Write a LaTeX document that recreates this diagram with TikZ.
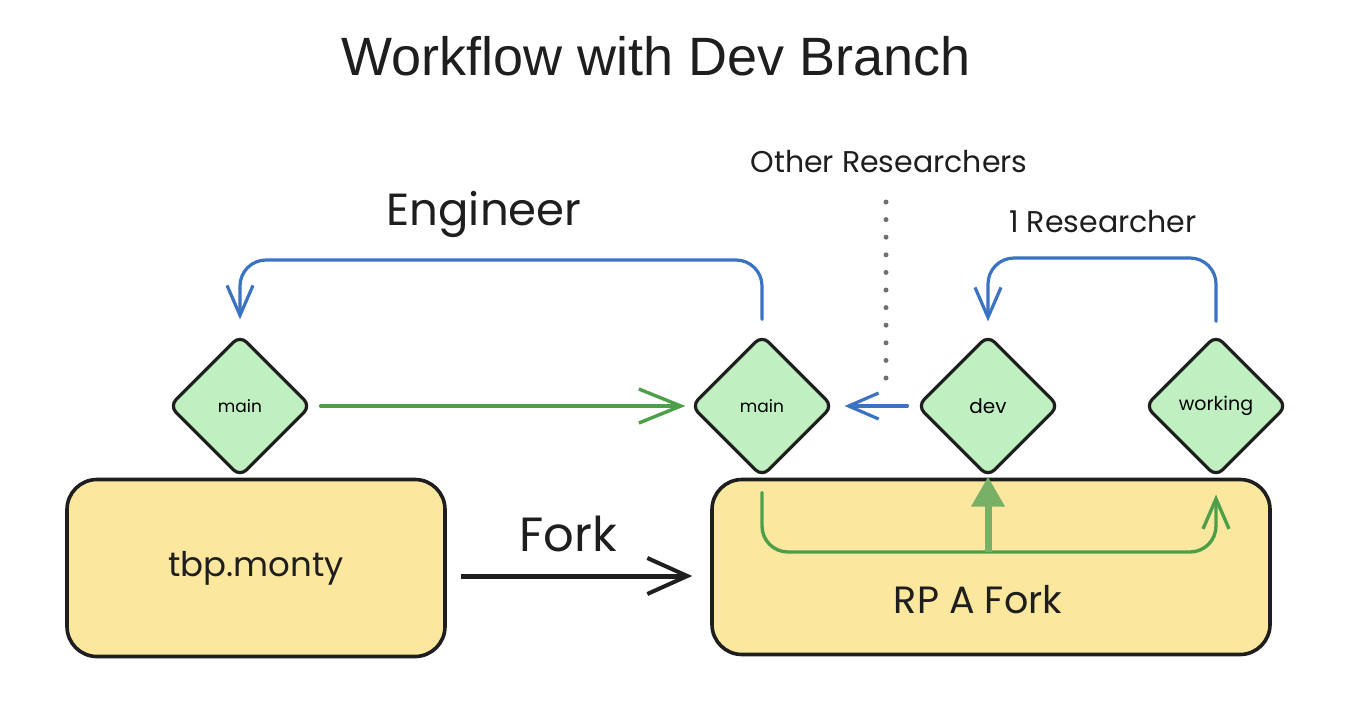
\documentclass[tikz,border=0pt]{standalone}
\usepackage{fontspec}
\setmainfont{Liberation Sans}
\newfontfamily\handfont{Poppins}
\usetikzlibrary{shapes.geometric,arrows.meta,calc}
\definecolor{inkc}{HTML}{1E1E1E}
\definecolor{leafc}{HTML}{C0F0C2}
\definecolor{sandc}{HTML}{FBE89E}
\definecolor{greenc}{HTML}{4E9F4A}
\definecolor{bluec}{HTML}{3B73C3}
\definecolor{grayc}{HTML}{707070}
\definecolor{lightgreenc}{HTML}{78B066}
\tikzset{
  branch/.style={diamond, draw=inkc, fill=leafc, line width=3.2pt, rounded corners=9pt,
    minimum width=142pt, minimum height=142pt, inner sep=0pt, font=\handfont\fontsize{17}{20}\selectfont},
  repo/.style={rectangle, draw=inkc, fill=sandc, line width=3.6pt, rounded corners=30pt},
  handtext/.style={font=\handfont, text=inkc, inner sep=0pt},
  bluearrow/.style={draw=bluec, line width=3.2pt, rounded corners=26pt, line cap=round,
    -{Straight Barb[length=30pt,width=26pt,line width=3.2pt]}},
  greenarrow/.style={draw=greenc, line width=3.4pt, line cap=round,
    -{Straight Barb[length=42pt,width=34pt,line width=3.4pt]}},
}
\begin{document}
\begin{tikzpicture}[x=1pt,y=-1pt]
\fill[white] (0,0) rectangle (1372,716);
\useasboundingbox (0,0) rectangle (1372,716);

% title
\node[font=\fontsize{54}{62}\selectfont, text=inkc] (title) at (656,56) {Workflow with Dev Branch};

% repositories
\node[repo, minimum width=378pt, minimum height=177pt] (monty) at (256,568) {};
\node[handtext, font=\handfont\fontsize{34}{40}\selectfont] (montytxt) at (256,568) {tbp.monty};
\node[repo, minimum width=558pt, minimum height=175pt] (rp) at (991,567) {};
\node[handtext, font=\handfont\fontsize{38}{44}\selectfont] (rptxt) at (978,600) {RP A Fork};

% branches
\node[branch] (mL) at (240,406) {main};
\node[branch] (mM) at (762,406) {main};
\node[branch, font=\handfont\fontsize{20}{24}\selectfont] (dev) at (988,406) {dev};
\node[branch, font=\handfont\fontsize{19}{24}\selectfont] (work) at (1216,406) {working};

% labels
\node[handtext, font=\handfont\fontsize{45}{52}\selectfont] (eng) at (484,214) {Engineer};
\node[handtext, font=\handfont\fontsize{30}{36}\selectfont] (other) at (889,162) {Other Researchers};
\node[handtext, font=\handfont\fontsize{30}{36}\selectfont] (oneres) at (1103,222) {1 Researcher};
\node[handtext, font=\handfont\fontsize{48}{56}\selectfont] (forklbl) at (568,534) {Fork};

% engineer loop
\draw[bluearrow] ($(mM.north)+(0,-14)$) |- (500,260) -| ($(mL.north)+(0,-14)$);
% researcher loop
\draw[bluearrow] ($(work.north)+(0,-12)$) |- (1100,258) -| ($(dev.north)+(0,-12)$);
% dev -> main
\draw[bluearrow] ($(dev.west)+(-8,0)$) -- ($(mM.east)+(10,0)$);
% main -> main
\draw[greenarrow] ($(mL.east)+(8,0)$) -- ($(mM.west)+(-4,0)$);

% dotted separator
\coordinate (dtop) at (886,202);
\coordinate (dbot) at (886,380);
\draw[grayc, line width=5pt, line cap=round, dash pattern=on 0pt off 17.6pt] (dtop) -- (dbot);

% fork arrow
\draw[inkc, line width=5pt,
  -{Straight Barb[length=40pt,width=36pt,line width=4pt]}]
  ($(monty.east)+(14,8)$) -- ($(rp.west)+(-18,9)$);

% branch flow inside fork
\coordinate (flowbase) at (988,552);
\draw[greenarrow, rounded corners=26pt,
  -{Straight Barb[length=30pt,width=26pt,line width=3.4pt]}]
  ($(mM.south)+(0,14)$) |- (flowbase) -| ($(work.south)+(0,16)$);
\draw[draw=lightgreenc, line width=7pt,
  -{Triangle[length=30pt,width=32pt]}, lightgreenc]
  (flowbase) -- ($(dev.south)+(0,-2)$);
\end{tikzpicture}
\end{document}
